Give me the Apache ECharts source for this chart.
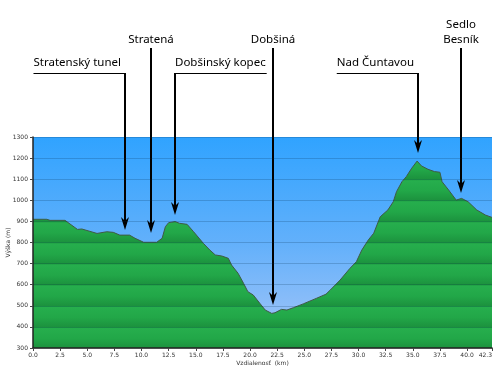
<!DOCTYPE html>
<html><head><meta charset="utf-8">
<script src="https://cdn.jsdelivr.net/npm/echarts@6/dist/echarts.min.js"></script>
<style>html,body{margin:0;padding:0;background:#fff}#c{width:494px;height:370px}</style>
</head><body><div id="c"></div>
<script>
// ---- data ----
const distKm = [0, 1.26, 1.57, 2.95, 4.1, 4.5, 5.9, 6.8, 7.4, 8.0, 8.9, 9.4, 10.2, 11.4, 11.9, 12.2, 12.5, 13.1, 13.5, 14.2, 14.8, 15.7, 16.3, 16.8, 17.4, 18.0, 18.3, 18.9, 19.4, 19.8, 20.3, 20.9, 21.4, 22.0, 22.3, 22.9, 23.4, 24.0, 24.9, 26.1, 27.0, 27.4, 28.3, 29.2, 29.8, 30.3, 30.9, 31.4, 32.0, 32.7, 33.2, 33.5, 34.0, 34.4, 34.9, 35.4, 35.8, 36.4, 37.0, 37.5, 37.7, 38.3, 39.0, 39.5, 40.1, 40.9, 41.7, 42.3];
const elevM = [910, 910, 905, 905, 862, 864, 843, 851, 848, 835, 835, 820, 801, 801, 820, 875, 894, 899, 891, 886, 851, 796, 764, 741, 736, 725, 693, 654, 607, 567, 551, 512, 480, 464, 467, 483, 480, 491, 509, 535, 555, 575, 622, 677, 709, 764, 812, 844, 922, 954, 993, 1041, 1088, 1112, 1152, 1186, 1163, 1147, 1136, 1133, 1088, 1049, 1001, 1009, 993, 954, 930, 919];
const xMin = 0, xMax = 42.3, xStep = 2.5;
const yMin = 300, yMax = 1300, yStep = 100;
const xTitle = 'Vzdialenosť  (km)';
const yTitle = 'Výška (m)';
const placeNames = ['Stratenský tunel', 'Stratená', 'Dobšinský kopec', 'Dobšiná', 'Nad Čuntavou', 'Sedlo\nBesník'];
const placeKm = [8.5, 10.9, 13.1, 22.1, 35.5, 39.4];
const placeTipElev = [859, 845, 930, 504, 1224, 1035];
// label placement relative to the pointer line
const placeLayout = ['left', 'top', 'right', 'top', 'left', 'top'];

// ---- chart ----
const FONT = '"DejaVu Sans", sans-serif';
const chart = echarts.init(document.getElementById('c'), null, {renderer: 'canvas'});
chart.setOption({
  animation: false,
  backgroundColor: '#ffffff',
  grid: {
    left: 33, right: 2, top: 137, bottom: 22, containLabel: false, outerBoundsMode: 'none',
    show: true, borderWidth: 0,
    backgroundColor: new echarts.graphic.LinearGradient(0, 0, 0, 1, [
      {offset: 0, color: '#30a3ff'},
      {offset: 0.5, color: '#62b0fb'},
      {offset: 1, color: '#a8c6f7'}
    ])
  },
  xAxis: {
    type: 'value', min: xMin, max: xMax, interval: xStep, z: 5,
    name: xTitle, nameLocation: 'middle', nameGap: 12, nameMoveOverlap: false,
    nameTextStyle: {fontSize: 6, color: '#333', fontFamily: FONT},
    axisLine: {show: true, lineStyle: {color: '#222', width: 1.5}},
    axisTick: {show: true, length: 3, lineStyle: {color: '#444'}},
    axisLabel: {fontSize: 6, color: '#333', fontFamily: FONT, margin: 4,
      formatter: v => v.toFixed(1), showMaxLabel: true, showMinLabel: true, alignMaxLabel: 'right'},
    splitLine: {show: false}
  },
  yAxis: {
    type: 'value', min: yMin, max: yMax, interval: yStep, z: 5,
    name: yTitle, nameLocation: 'middle', nameGap: 22, nameRotate: 90, nameMoveOverlap: false,
    nameTextStyle: {fontSize: 6, color: '#333', fontFamily: FONT},
    axisLine: {show: true, lineStyle: {color: '#222', width: 1.5}},
    axisTick: {show: true, length: 3, lineStyle: {color: '#444'}},
    axisLabel: {fontSize: 6, color: '#333', fontFamily: FONT, margin: 5, formatter: v => String(v)},
    splitLine: {show: true, lineStyle: {color: 'rgba(0,40,70,0.2)', width: 1}}
  },
  series: [{
    type: 'line', silent: true, symbol: 'none', smooth: false,
    data: distKm.map((d, i) => [d, elevM[i]]),
    lineStyle: {color: '#3f5a46', width: 1},
    areaStyle: {origin: 'start', opacity: 1, color: '#22a047'}
  }]
});

// banded green fill aligned to the elevation grid
(function () {
  const topPx = chart.convertToPixel({gridIndex: 0}, [0, yMax])[1];
  const botPx = chart.convertToPixel({gridIndex: 0}, [0, yMin])[1];
  const n = Math.round((yMax - yMin) / yStep);
  const stops = [];
  for (let k = 0; k < n; k++) {
    const a = k / n, b = (k + 1) / n, h = 1 / n;
    stops.push({offset: a, color: '#1d9a41'});
    stops.push({offset: a + h * 0.08, color: '#26ae4d'});
    stops.push({offset: a + h * 0.55, color: '#22a748'});
    stops.push({offset: b - 0.0005, color: '#1c923e'});
  }
  const grad = new echarts.graphic.LinearGradient(0, topPx, 0, botPx, stops, true);
  chart.setOption({series: [{areaStyle: {color: grad}}]});
})();

// place markers with pointer arrows
(function () {
  const font = '11.5px "Noto Sans", sans-serif';
  const ctx = document.createElement('canvas').getContext('2d');
  ctx.font = font;
  const els = [];
  placeNames.forEach((name, i) => {
    const x = Math.round(chart.convertToPixel({gridIndex: 0}, [placeKm[i], yMin])[0]);
    const tipY = chart.convertToPixel({gridIndex: 0}, [placeKm[i], placeTipElev[i]])[1];
    const kind = placeLayout[i];
    const topY = kind === 'top' ? 48 : 73;
    els.push({type: 'line', silent: true, shape: {x1: x, y1: topY, x2: x, y2: tipY - 8},
      style: {stroke: '#000', lineWidth: 2}});
    els.push({type: 'polygon', silent: true,
      shape: {points: [[x, tipY], [x - 4, tipY - 13], [x, tipY - 9], [x + 4, tipY - 13]]},
      style: {fill: '#000'}});
    if (kind === 'top') {
      els.push({type: 'text', silent: true, x: x, y: topY - 0.5,
        style: {text: name, font: font, fill: '#000', align: 'center', verticalAlign: 'bottom', lineHeight: 15}});
    } else {
      const w = ctx.measureText(name).width;
      const x0 = kind === 'left' ? x - w - 4 : x;
      const x1 = kind === 'left' ? x : x + w + 1;
      els.push({type: 'line', silent: true, shape: {x1: x0, y1: 73.5, x2: x1, y2: 73.5},
        style: {stroke: '#000', lineWidth: 1}});
      els.push({type: 'text', silent: true, x: kind === 'left' ? x - 4 : x, y: 63,
        style: {text: name, font: font, fill: '#000', align: kind === 'left' ? 'right' : 'left', verticalAlign: 'middle'}});
    }
  });
  chart.setOption({graphic: {elements: els}});
})();
</script>
</body></html>
